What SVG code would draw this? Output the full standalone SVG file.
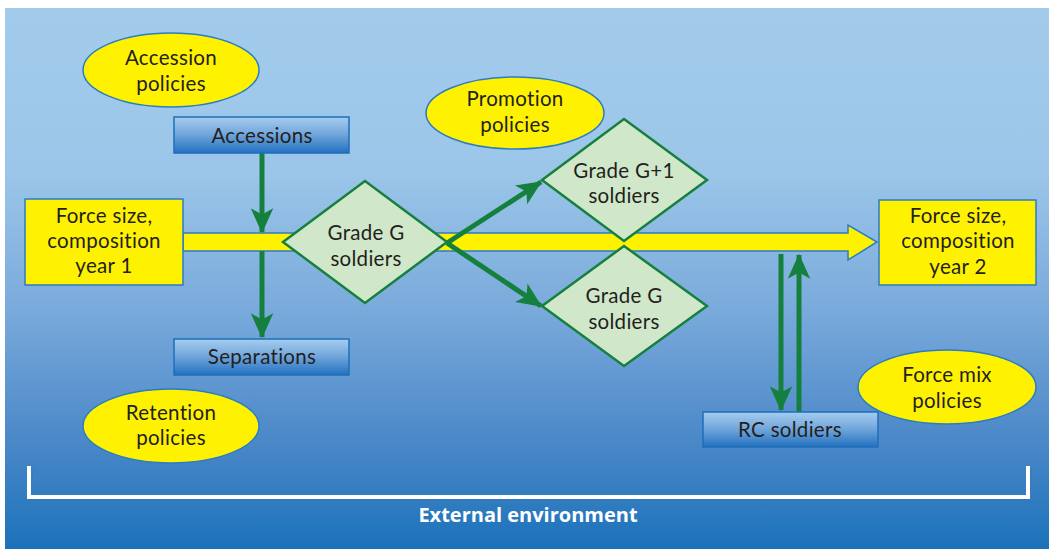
<svg xmlns="http://www.w3.org/2000/svg" width="1049" height="549" viewBox="0 0 1049 549">
<defs>
<linearGradient id="bg" x1="0" y1="0" x2="0" y2="1">
<stop offset="0" stop-color="#a2cbeb"/>
<stop offset="0.3" stop-color="#9cc6e9"/>
<stop offset="0.55" stop-color="#7babdc"/>
<stop offset="0.8" stop-color="#4b88c8"/>
<stop offset="1" stop-color="#1b72ba"/>
</linearGradient>
<linearGradient id="box" x1="0" y1="0" x2="0" y2="1">
<stop offset="0" stop-color="#a6cdef"/>
<stop offset="0.5" stop-color="#6fa4da"/>
<stop offset="1" stop-color="#2271c0"/>
</linearGradient>
<marker id="ah" markerWidth="5" markerHeight="5" viewBox="0 0 10 10" refX="9.5" refY="5" orient="auto" markerUnits="strokeWidth">
<path d="M0,0.5 L10,5 L0,9.5 L2.5,5 Z" fill="#15803e"/>
</marker>
<style>
.t{font-family:Lato,"Open Sans",sans-serif;font-size:20.5px;fill:#231f20;text-anchor:middle;letter-spacing:0.3px}
.ell{fill:#fff200;stroke:#2a7dc2;stroke-width:1.5}
.yb{fill:#fff200;stroke:#2a7dc2;stroke-width:1.5}
.bx{fill:url(#box);stroke:#1e6fba;stroke-width:1.5}
.dm{fill:#d1e7c9;stroke:#16803e;stroke-width:2.5}
.ar{stroke:#15803e;stroke-width:5;fill:none;marker-end:url(#ah)}
</style>
</defs>
<rect x="5" y="8" width="1044" height="541" fill="url(#bg)"/>

<g id="bar">
<path class="yb" d="M183,233 L848,233 L848,225 L877,242 L848,260 L848,251 L183,251 Z"/>
</g>

<g id="connectors">
<line class="ar" x1="262" y1="153" x2="262" y2="232"/>
<line class="ar" x1="262" y1="251" x2="262" y2="337"/>
<line class="ar" x1="447" y1="243" x2="541" y2="182"/>
<line class="ar" x1="447" y1="243" x2="541" y2="306"/>
<line class="ar" x1="781" y1="254" x2="781" y2="410"/>
<line class="ar" x1="799" y1="412" x2="799" y2="255"/>
</g>

<g id="accession-policies">
<ellipse class="ell" cx="171" cy="70" rx="88" ry="37"/>
<text class="t" x="171" y="65">Accession</text>
<text class="t" x="171" y="91">policies</text>
</g>
<g id="accessions">
<rect class="bx" x="174" y="117" width="175" height="36"/>
<text class="t" x="262" y="143">Accessions</text>
</g>
<g id="force-year1">
<rect class="yb" x="25" y="199" width="158" height="86"/>
<text class="t" x="104" y="223">Force size,</text>
<text class="t" x="104" y="248">composition</text>
<text class="t" x="104" y="273">year 1</text>
</g>
<g id="grade-g">
<path class="dm" d="M283,242 L365,181 L447,242 L365,303 Z"/>
<text class="t" x="366" y="240">Grade G</text>
<text class="t" x="366" y="266">soldiers</text>
</g>
<g id="promotion-policies">
<ellipse class="ell" cx="515" cy="113" rx="89" ry="36"/>
<text class="t" x="515" y="106">Promotion</text>
<text class="t" x="515" y="132">policies</text>
</g>
<g id="grade-g1">
<path class="dm" d="M542,180 L624,119 L707,180 L624,241 Z"/>
<text class="t" x="624" y="178">Grade G+1</text>
<text class="t" x="624" y="203">soldiers</text>
</g>
<g id="grade-g-lower">
<path class="dm" d="M542,306 L624,246 L707,306 L624,366 Z"/>
<text class="t" x="624" y="303">Grade G</text>
<text class="t" x="624" y="329">soldiers</text>
</g>
<g id="separations">
<rect class="bx" x="174" y="339" width="175" height="36"/>
<text class="t" x="262" y="364">Separations</text>
</g>
<g id="retention-policies">
<ellipse class="ell" cx="171" cy="426" rx="88" ry="37"/>
<text class="t" x="171" y="420">Retention</text>
<text class="t" x="171" y="445">policies</text>
</g>
<g id="force-year2">
<rect class="yb" x="879" y="200" width="157" height="85"/>
<text class="t" x="958" y="223">Force size,</text>
<text class="t" x="958" y="248">composition</text>
<text class="t" x="958" y="274">year 2</text>
</g>
<g id="rc-soldiers">
<rect class="bx" x="703" y="412" width="175" height="35"/>
<text class="t" x="790" y="437">RC soldiers</text>
</g>
<g id="force-mix-policies">
<ellipse class="ell" cx="947" cy="387" rx="89" ry="37"/>
<text class="t" x="947" y="382">Force mix</text>
<text class="t" x="947" y="408">policies</text>
</g>
<g id="external-environment">
<path d="M30,467 L30,498 L1029,498 L1029,467" fill="none" stroke="#3b78b8" stroke-width="4" transform="translate(1,1)" opacity="0.5"/>
<path d="M29,466 L29,497 L1028,497 L1028,466" fill="none" stroke="#ffffff" stroke-width="4"/>
<text x="528" y="522" style="font-family:'Open Sans','Noto Sans',sans-serif;font-size:20px;font-weight:bold;fill:#ffffff;text-anchor:middle">External environment</text>
</g>
</svg>
